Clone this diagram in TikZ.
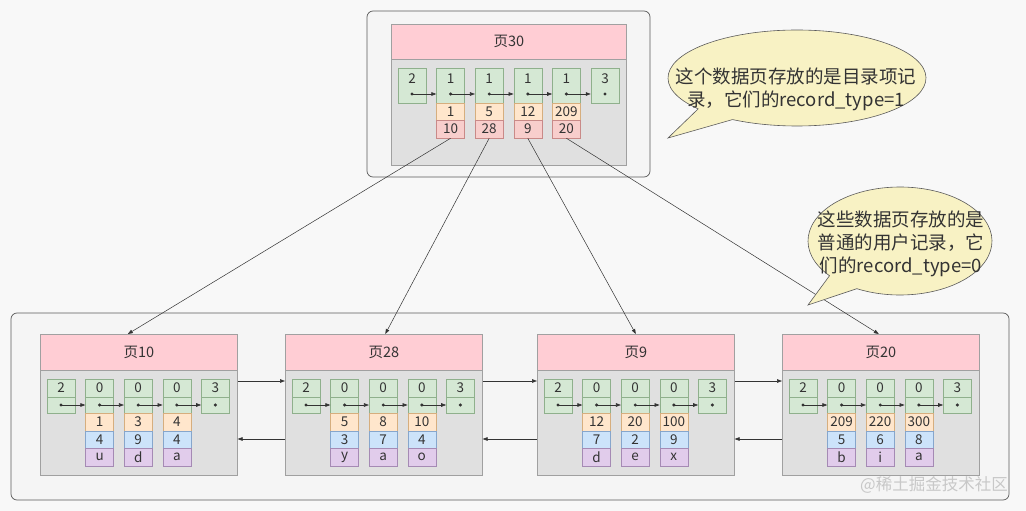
\documentclass[tikz,border=0pt]{standalone}
\usepackage{fontspec}
\setmainfont{Noto Sans CJK SC}
\usetikzlibrary{arrows.meta,calc}
\definecolor{bgc}{HTML}{F8F8F8}
\definecolor{boxfill}{HTML}{F5F5F5}
\definecolor{boxline}{HTML}{5A5A5A}
\definecolor{headfill}{HTML}{FFCDD4}
\definecolor{bodyfill}{HTML}{E0E0E0}
\definecolor{pageline}{HTML}{A0A0A0}
\definecolor{gfill}{HTML}{D5E8D4}
\definecolor{gline}{HTML}{8FB08C}
\definecolor{ofill}{HTML}{FFE6CC}
\definecolor{oline}{HTML}{D6AE7E}
\definecolor{bfill}{HTML}{CCE3FA}
\definecolor{bline}{HTML}{86A6CC}
\definecolor{ufill}{HTML}{E1CCEB}
\definecolor{uline}{HTML}{A58AB4}
\definecolor{pfill}{HTML}{F8CECC}
\definecolor{pline}{HTML}{C98A88}
\definecolor{txt}{HTML}{333333}
\definecolor{bubfill}{HTML}{F8F2C4}
\definecolor{wmc}{HTML}{C8C8C8}
\begin{document}
\begin{tikzpicture}[x=1pt,y=-1pt,
  cellbase/.style={draw, line width=0.5pt, inner sep=0pt, minimum width=28pt,
    font=\fontsize{13.5}{14}\selectfont, text=txt},
  gcell/.style={cellbase, fill=gfill, draw=gline},
  ocell/.style={cellbase, fill=ofill, draw=oline},
  bcell/.style={cellbase, fill=bfill, draw=bline},
  ucell/.style={cellbase, fill=ufill, draw=uline},
  pcell/.style={cellbase, fill=pfill, draw=pline},
  celltext/.style={inner sep=0pt, font=\fontsize{13.5}{14}\selectfont, text=txt},
  outerbox/.style={draw=boxline, fill=boxfill, line width=0.7pt, rounded corners=6pt},
  pagebody/.style={draw=pageline, fill=bodyfill, line width=0.6pt, inner sep=0pt},
  pagehead/.style={draw=pageline, fill=headfill, line width=0.6pt, inner sep=0pt,
    font=\fontsize{14.5}{16}\selectfont, text=txt},
  link/.style={draw=txt, line width=0.6pt, -{Triangle[length=5pt,width=3.6pt]}},
  conn/.style={draw=txt, line width=0.5pt, -{Triangle[length=5pt,width=3.6pt]}},
  bubble/.style={draw=boxline, fill=bubfill, line width=0.6pt},
  btext/.style={align=center, inner sep=0pt, text=txt, font=\fontsize{18.5}{23}\selectfont},
  dotmark/.style={fill=txt}
]
\fill[bgc] (0,0) rectangle (1026,511);
\useasboundingbox (0,0) rectangle (1026,511);

% outer boxes
\draw[outerbox] (367,11) rectangle (650,177);
\draw[outerbox] (11,313) rectangle (1009,500);

% top page
\node[pagebody, minimum width=235pt, minimum height=141pt, anchor=north west] (pg30) at (391,24) {};
\node[pagehead, minimum width=235pt, minimum height=35pt, anchor=north west] (ph30) at (391,24) {页30};

\foreach \i/\n in {0/2,1/1,2/1,3/1,4/1,5/3} {
  \node[gcell, minimum height=35pt] (t\i) at ({412+38.6*\i},85.5) {};
  \node[celltext] (tn\i) at ({412+38.6*\i},78.5) {\n};
  \coordinate (td\i) at ({412+38.6*\i},94);
  \fill[dotmark] (td\i) circle (1.7pt);
}
\foreach \i/\a/\b in {1/1/10,2/5/28,3/12/9,4/209/20} {
  \node[ocell, minimum height=17pt] (to\i) at ({412+38.6*\i},111.5) {\a};
  \node[pcell, minimum height=18pt] (tp\i) at ({412+38.6*\i},129) {\b};
}
\foreach \i [count=\j from 1] in {0,...,4} {
  \draw[link] (td\i) -- (td\i -| t\j.west);
}

% bottom pages
\foreach \P/\L/\T/\oa/\ob/\oc/\ba/\bb/\bc/\ua/\ub/\uc in {
  10/40/页10/1/3/4/4/9/4/u/d/a,
  28/285/页28/5/8/10/3/7/4/y/a/o,
  9/537/页9/12/20/100/7/2/9/d/e/x,
  20/782/页20/209/220/300/5/6/8/b/i/a} {
  \node[pagebody, minimum width=197pt, minimum height=141pt, anchor=north west] (pg\P) at (\L,334) {};
  \node[pagehead, minimum width=197pt, minimum height=36pt, anchor=north west] (ph\P) at (\L,334) {\T};
  \foreach \k/\n in {0/2,1/0,2/0,3/0,4/3} {
    \node[gcell, minimum height=18pt] (g\P-\k) at ({\L+21+38.6*\k},388) {\n};
    \node[gcell, minimum height=16pt] (d\P-\k) at ({\L+21+38.6*\k},405) {};
    \fill[dotmark] (d\P-\k.center) circle (1.7pt);
  }
  \foreach \k/\a/\b/\c in {1/\oa/\ba/\ua, 2/\ob/\bb/\ub, 3/\oc/\bc/\uc} {
    \node[ocell, minimum height=18pt] (o\P-\k) at ({\L+21+38.6*\k},422) {\a};
    \node[bcell, minimum height=17pt] (b\P-\k) at ({\L+21+38.6*\k},439.5) {\b};
    \node[ucell, minimum height=18pt] (u\P-\k) at ({\L+21+38.6*\k},457) {\c};
  }
  \foreach \k [count=\j from 1] in {0,...,3} {
    \draw[link] (d\P-\k.center) -- (d\P-\j.west);
  }
}

% links between pages
\foreach \A/\B in {10/28,28/9,9/20} {
  \draw[link] ($(pg\A.north east)+(0,47)$) -- ($(pg\B.north west)+(0,47)$);
  \draw[link] ($(pg\B.north west)+(0,105)$) -- ($(pg\A.north east)+(0,105)$);
}

% connectors from directory records
\draw[conn] (tp1.south) -- ($(ph10.north)+(-11,0)$);
\draw[conn] (tp2.south) -- ($(ph28.north)+(1.5,0)$);
\draw[conn] (tp3.south) -- (ph9.north);
\draw[conn] (tp4.south) -- ($(ph20.north)+(-2,0)$);

% callouts
\filldraw[bubble] ($(797,78)+(140:129 and 48)$) arc[start angle=140, end angle=480, x radius=129, y radius=48] -- (668,138) -- cycle;
\node[btext] (bt1) at (796,89) {这个数据页存放的是目录项记\\录，它们的record\_type=1};

\filldraw[bubble] ($(900,241)+(140:92 and 54)$) arc[start angle=140, end angle=478, x radius=92, y radius=54] -- (808,305) -- cycle;
\node[btext] (bt2) at (901,244) {这些数据页存放的是\\普通的用户记录，它\\们的record\_type=0};

% watermark
\node[anchor=east, inner sep=0pt, text=wmc, font=\fontsize{16.5}{17}\selectfont] (wm) at (1008,485) {@稀土掘金技术社区};
\end{tikzpicture}
\end{document}
